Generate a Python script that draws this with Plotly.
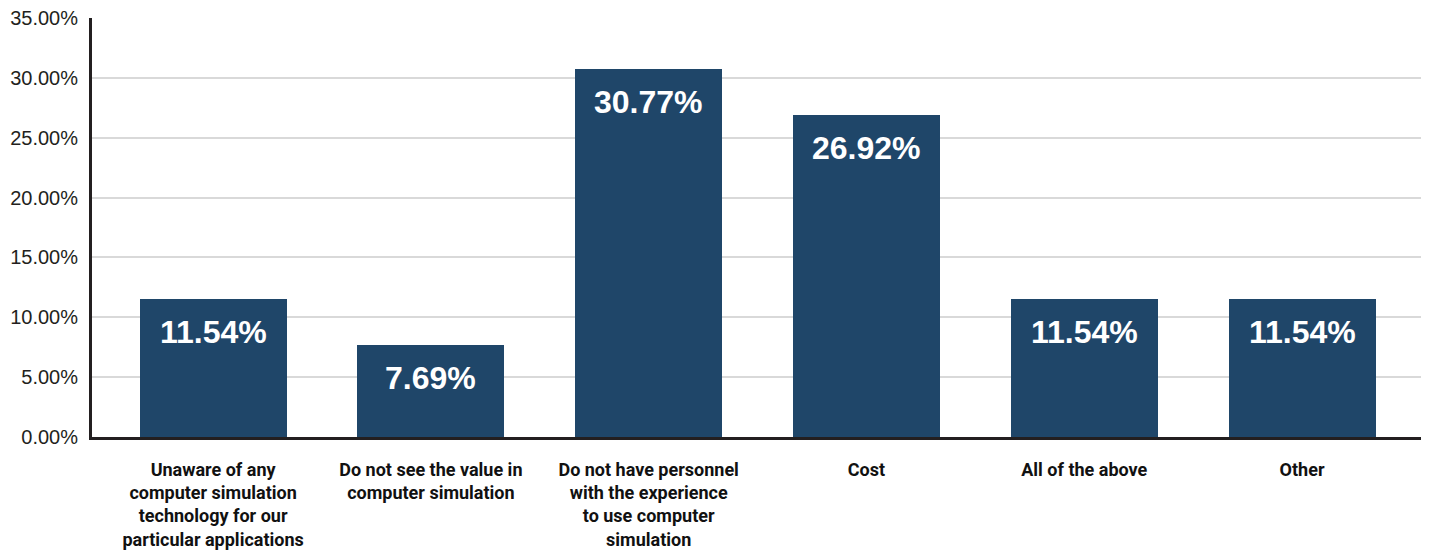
import plotly.graph_objects as go

categories = [
    "Unaware of any<br>computer simulation<br>technology for our<br>particular applications",
    "Do not see the value in<br>computer simulation",
    "Do not have personnel<br>with the experience<br>to use computer<br>simulation",
    "Cost",
    "All of the above",
    "Other",
]
values = [11.54, 7.69, 30.77, 26.92, 11.54, 11.54]
y_ticks = [0, 5, 10, 15, 20, 25, 30, 35]

bar_color = "#1f4669"

fig = go.Figure()
fig.add_trace(go.Bar(
    x=list(range(len(categories))),
    y=values,
    marker=dict(color=bar_color, line=dict(width=0)),
    width=0.675,
    hoverinfo="skip",
))

for i, v in enumerate(values):
    fig.add_annotation(
        x=i, y=v, text=f"<b>{v:.2f}%</b>", showarrow=False,
        yanchor="top", yshift=-13,
        font=dict(family="Liberation Sans, Arial, sans-serif", size=32, color="white"),
    )

fig.update_layout(
    width=1421, height=549,
    margin=dict(l=84, r=5, t=10, b=120, autoexpand=False),
    plot_bgcolor="white", paper_bgcolor="white",
    showlegend=False,
    bargap=0,
)
fig.update_xaxes(
    range=[-0.556, 5.56],
    tickmode="array",
    tickvals=list(range(len(categories))),
    ticktext=[f"<b>{c}</b>" for c in categories],
    tickangle=0, automargin=False, ticklabeloverflow="allow",
    tickfont=dict(family="Roboto, Liberation Sans, Arial, sans-serif", size=18, color="#111111"),
    showline=True, linecolor="#231f20", linewidth=3,
    showgrid=False, ticks="", ticklabelstandoff=14,
)
fig.update_yaxes(
    range=[0, 35],
    tickmode="array",
    tickvals=y_ticks,
    ticktext=[f"{t:.2f}%" for t in y_ticks],
    automargin=False, ticklabeloverflow="allow",
    tickfont=dict(family="Liberation Sans, Arial, sans-serif", size=20, color="#231f20"),
    showline=True, linecolor="#231f20", linewidth=3,
    showgrid=True, gridcolor="#d9d9d9", gridwidth=1.5,
    zeroline=False, ticks="", ticklabelstandoff=7,
)

fig.write_html("out.html")
